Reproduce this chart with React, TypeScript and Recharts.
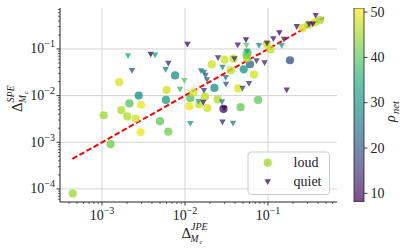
import React from 'react';
import { ComposedChart, Scatter, XAxis, YAxis, CartesianGrid, ReferenceLine, BarChart, Bar } from 'recharts';

// ---------- data ----------
const loudX = [4.44e-4, 1.05e-3, 1.27e-3, 1.71e-3, 2.02e-3, 2.14e-3, 2.96e-3, 2.55e-3, 2.92e-3, 5.0e-3, 6.3e-3, 1.61e-3, 2.77e-3, 7.6e-3, 6.0e-3, 5.9e-3, 1.16e-2, 1.26e-2, 1.74e-2, 1.48e-2, 1.13e-2, 1.86e-2, 2.48e-2, 4.67e-2, 7.6e-2, 2.26e-2, 2.1e-2, 2.99e-2, 3.56e-2, 3.84e-2, 4.38e-2, 5.1e-2, 6.07e-2, 5.58e-2, 6.78e-2, 5.66e-2, 2.91e-2, 9.7e-2, 0.107, 0.184, 0.262, 0.306, 0.368, 0.424, 5.5e-2];
const loudY = [7.98e-5, 3.8e-3, 9.1e-4, 4.87e-3, 3.59e-3, 6.8e-3, 6.38e-3, 3.22e-3, 1.64e-3, 2.83e-3, 1.69e-3, 1.94e-2, 1.0e-2, 2.71e-2, 1.32e-2, 8.1e-3, 8.8e-3, 1.18e-2, 9.5e-3, 6.5e-3, 5.9e-3, 5.4e-3, 8.3e-3, 5.65e-3, 8.1e-3, 1.46e-2, 4.66e-2, 5.9e-2, 3.47e-2, 6.2e-2, 1.43e-2, 3.67e-2, 4.7e-2, 6.3e-2, 2.82e-2, 8.4e-2, 5.2e-3, 0.128, 9.75e-2, 5.73e-2, 0.282, 0.331, 0.373, 0.418, 7.4e-2];
const loudRho = [45, 45, 42, 46, 46, 40, 50, 48, 50, 41, 42, 49, 30, 30, 48, 33, 40, 48, 47, 47, 50, 48, 46, 41, 41, 30, 48, 48, 47, 47, 49, 32, 24, 47, 48, 38, 12, 48, 47, 20, 48, 46, 48, 45, 42];

const quietX = [2.06e-3, 2.3e-3, 3.87e-3, 4.36e-3, 1.07e-2, 6.3e-3, 5.85e-3, 9.8e-3, 8.7e-3, 1.56e-2, 1.69e-2, 1.77e-2, 1.84e-2, 1.69e-2, 2.5e-2, 2.83e-2, 3.09e-2, 3.12e-2, 3.94e-2, 4.32e-2, 4.93e-2, 5.43e-2, 5.5e-2, 5.58e-2, 5.9e-2, 1.45e-2, 1.66e-2, 2.79e-2, 2.97e-2, 1.16e-2, 2.83e-2, 3.79e-2, 7.8e-2, 7.26e-2, 9.08e-2, 9.73e-2, 0.116, 0.137, 0.156, 0.146, 0.168, 0.222, 0.312, 0.346, 0.376];
const quietY = [7.08e-2, 3.43e-2, 7.6e-2, 7.33e-2, 0.125, 4.9e-2, 3.6e-2, 2.08e-2, 1.36e-2, 3.38e-2, 3.14e-2, 2.71e-2, 2.17e-2, 1.28e-2, 6.4e-2, 4.02e-2, 2.42e-2, 1.74e-2, 6.1e-2, 0.12, 1.43e-2, 0.156, 0.119, 8.8e-2, 1.8e-2, 7.4e-3, 7.1e-3, 7.3e-3, 5.3e-3, 2.5e-3, 2.69e-3, 2.54e-3, 0.117, 5.53e-2, 5.0e-2, 0.131, 0.164, 0.22, 0.16, 0.118, 1.31e-2, 0.298, 0.338, 0.338, 0.514];
const quietRho = [35, 22, 10, 33, 10, 14, 28, 40, 38, 28, 25, 22, 21, 17, 14, 28, 25, 21, 14, 12, 18, 10, 40, 33, 15, 35, 11, 27, 9, 32, 14, 27, 30, 15, 14, 12, 12, 10, 12, 32, 12, 12, 12, 10, 12];

const fitStart = 4.4e-4;
const fitEnd = 0.47;

const xDomain = [3.12e-4, 0.678];
const yDomain = [5.25e-5, 0.755];
const xMajor = [1e-3, 1e-2, 1e-1];
const yMajor = [1e-4, 1e-3, 1e-2, 1e-1];
const cbMin = 8.1;
const cbMax = 50.9;
const cbTicks = [10, 20, 30, 40, 50];
const legendLabels = ['loud', 'quiet'];

// ---------- helpers ----------
const SERIF = "'Liberation Serif', 'DejaVu Serif', serif";
const INK = '#222';
const VIRIDIS = ['#440154', '#482475', '#414487', '#355f8d', '#2a788e', '#21918c', '#22a884', '#44bf70', '#7ad151', '#bddf26', '#fde725'];

function hexToRgb(h: string) {
  return [parseInt(h.slice(1, 3), 16), parseInt(h.slice(3, 5), 16), parseInt(h.slice(5, 7), 16)];
}
function viridis(t: number) {
  const tt = Math.max(0, Math.min(1, t));
  const s = tt * 10;
  const i = Math.min(9, Math.floor(s));
  const f = s - i;
  const a = hexToRgb(VIRIDIS[i]);
  const b = hexToRgb(VIRIDIS[i + 1]);
  const c = a.map((v, k) => Math.round(v + (b[k] - v) * f));
  return `rgb(${c[0]},${c[1]},${c[2]})`;
}
const rhoColor = (r: number) => viridis((r - cbMin) / (cbMax - cbMin));

function logTicks(lo: number, hi: number) {
  const out: number[] = [];
  for (let e = -6; e <= 1; e++) {
    for (let k = 1; k <= 9; k++) {
      const v = parseFloat((k * Math.pow(10, e)).toPrecision(6));
      if (v >= lo && v <= hi) out.push(v);
    }
  }
  return out;
}
const isMajor = (v: number) => {
  const lg = Math.log10(v);
  return Math.abs(lg - Math.round(lg)) < 1e-6;
};

const loudData = loudX.map((x, i) => ({ x, y: loudY[i], rho: loudRho[i] }));
const quietData = quietX.map((x, i) => ({ x, y: quietY[i], rho: quietRho[i] }));
const cbData = [{ name: 'cb', range: [cbMin, cbMax] }];

const triPath = (cx: number, cy: number, s = 3.2) =>
  `M${cx - s},${cy - s * 0.85} L${cx + s},${cy - s * 0.85} L${cx},${cy + s * 0.95} Z`;

const CircleShape = (p: any) => (
  <circle cx={p.cx} cy={p.cy} r={4.1} fill={rhoColor(p.payload.rho)} fillOpacity={0.8} />
);
const TriShape = (p: any) => (
  <path d={triPath(p.cx, p.cy)} fill={rhoColor(p.payload.rho)} fillOpacity={0.8} />
);

const XTick = (p: any) => {
  const v = p.payload.value;
  const major = isMajor(v);
  const e = Math.round(Math.log10(v));
  return (
    <g>
      <line x1={p.x} x2={p.x} y1={p.y} y2={p.y + (major ? 3.5 : 2)} stroke={INK} strokeWidth={major ? 0.9 : 0.7} />
      {major && (
        <text x={p.x} y={p.y + 18} textAnchor="middle" fontFamily={SERIF} fontSize={14} fill={INK}>
          10<tspan dy={-6} fontSize={10}>{'\u2212' + Math.abs(e)}</tspan>
        </text>
      )}
    </g>
  );
};
const YTick = (p: any) => {
  const v = p.payload.value;
  const major = isMajor(v);
  const e = Math.round(Math.log10(v));
  return (
    <g>
      <line x1={p.x} x2={p.x - (major ? 3.5 : 2)} y1={p.y} y2={p.y} stroke={INK} strokeWidth={major ? 0.9 : 0.7} />
      {major && (
        <text x={p.x - 5} y={p.y + 4.5} textAnchor="end" fontFamily={SERIF} fontSize={14} fill={INK}>
          10<tspan dy={-6} fontSize={10}>{'\u2212' + Math.abs(e)}</tspan>
        </text>
      )}
    </g>
  );
};
const CbTick = (p: any) => (
  <g>
    <line x1={p.x} x2={p.x + 3.5} y1={p.y} y2={p.y} stroke={INK} strokeWidth={0.9} />
    <text x={p.x + 6.5} y={p.y + 4.5} fontFamily={SERIF} fontSize={14} fill={INK}>{p.payload.value}</text>
  </g>
);

const DeltaLabel = ({ sup }: { sup: string }) => (
  <g fontFamily={SERIF} fill={INK}>
    <text x={0} y={0} fontSize={15}>Δ</text>
    <text x={9.5} y={-8} fontSize={10} fontStyle="italic">{sup}</text>
    <text x={9} y={3.5} fontSize={9.5} fontStyle="italic">M</text>
    <text x={18} y={5.5} fontSize={7} fontStyle="italic">c</text>
  </g>
);

export default function App() {
  const xTicks = logTicks(xDomain[0], xDomain[1]);
  const yTicks = logTicks(yDomain[0], yDomain[1]);
  return (
    <div style={{ position: 'absolute', left: 0, top: 0, width: 407, height: 249, background: '#fff' }}>
      <div style={{ position: 'absolute', left: 0, top: 0 }}>
        <ComposedChart width={407} height={249} margin={{ top: 8, right: 70, bottom: 0, left: 0 }}>
          <CartesianGrid verticalValues={xMajor} horizontalValues={yMajor} stroke="#d3d3d3" strokeWidth={1} />
          <XAxis
            xAxisId={0}
            dataKey="x"
            type="number"
            scale="log"
            domain={xDomain}
            allowDataOverflow
            ticks={xTicks}
            interval={0}
            tick={XTick}
            tickLine={false}
            tickSize={0}
            tickMargin={0}
            height={47}
            axisLine={{ stroke: INK, strokeWidth: 1 }}
          />
          <XAxis xAxisId="top" orientation="top" type="number" scale="log" domain={xDomain} allowDataOverflow height={0} tick={false} tickLine={false} axisLine={{ stroke: INK, strokeWidth: 1 }} />
          <YAxis
            yAxisId={0}
            dataKey="y"
            type="number"
            scale="log"
            domain={yDomain}
            allowDataOverflow
            ticks={yTicks}
            interval={0}
            tick={YTick}
            tickLine={false}
            tickSize={0}
            tickMargin={0}
            width={60}
            axisLine={{ stroke: INK, strokeWidth: 1 }}
          />
          <YAxis yAxisId="right" orientation="right" type="number" scale="log" domain={yDomain} allowDataOverflow width={0} tick={false} tickLine={false} axisLine={{ stroke: INK, strokeWidth: 1 }} />
          <Scatter xAxisId={0} yAxisId={0} data={loudData} dataKey="y" shape={CircleShape} isAnimationActive={false} />
          <Scatter xAxisId={0} yAxisId={0} data={quietData} dataKey="y" shape={TriShape} isAnimationActive={false} />
          <ReferenceLine
            xAxisId={0}
            yAxisId={0}
            segment={[{ x: fitStart, y: fitStart }, { x: fitEnd, y: fitEnd }]}
            stroke="#ff0000"
            strokeWidth={2}
            strokeDasharray="5.5 2.6"
            ifOverflow="visible"
          />
        </ComposedChart>
      </div>
      <div style={{ position: 'absolute', left: 0, top: 0 }}>
        <BarChart width={407} height={249} data={cbData} margin={{ top: 8, right: 0, bottom: 47, left: 354 }} barCategoryGap={0} barGap={0}>
          <defs>
            <linearGradient id="viridisGrad" x1="0" y1="1" x2="0" y2="0">
              {VIRIDIS.map((c, i) => (
                <stop key={i} offset={`${i * 10}%`} stopColor={c} stopOpacity={0.7} />
              ))}
            </linearGradient>
          </defs>
          <XAxis dataKey="name" hide />
          <YAxis
            orientation="right"
            type="number"
            domain={[cbMin, cbMax]}
            allowDataOverflow
            ticks={cbTicks}
            interval={0}
            tick={CbTick}
            tickLine={false}
            tickSize={0}
            tickMargin={0}
            axisLine={false}
            width={43}
          />
          <Bar dataKey="range" fill="url(#viridisGrad)" stroke={INK} strokeWidth={0.8} isAnimationActive={false} />
        </BarChart>
      </div>
      <svg width={407} height={249} style={{ position: 'absolute', left: 0, top: 0, pointerEvents: 'none' }}>
        <g transform="translate(181.5,238)">
          <DeltaLabel sup="JPE" />
        </g>
        <g transform="translate(22,112) rotate(-90)">
          <DeltaLabel sup="SPE" />
        </g>
        <g transform="translate(395,122) rotate(-90)" fontFamily={SERIF} fill={INK}>
          <text x={0} y={0} fontSize={14} fontStyle="italic">ρ</text>
          <text x={8} y={4} fontSize={10.5} fontStyle="italic">net</text>
        </g>
        <rect x={248} y={152} width={81.5} height={42.5} rx={3} fill="#fff" fillOpacity={0.8} stroke="#cccccc" strokeWidth={1} />
        <circle cx={267.7} cy={162.7} r={4.1} fill={rhoColor(45)} fillOpacity={0.8} />
        <text x={293.5} y={166.5} fontFamily={SERIF} fontSize={14} fill={INK}>{legendLabels[0]}</text>
        <path d={triPath(267.7, 182)} fill={rhoColor(10)} fillOpacity={0.8} />
        <text x={293.5} y={186} fontFamily={SERIF} fontSize={14} fill={INK}>{legendLabels[1]}</text>
      </svg>
    </div>
  );
}
